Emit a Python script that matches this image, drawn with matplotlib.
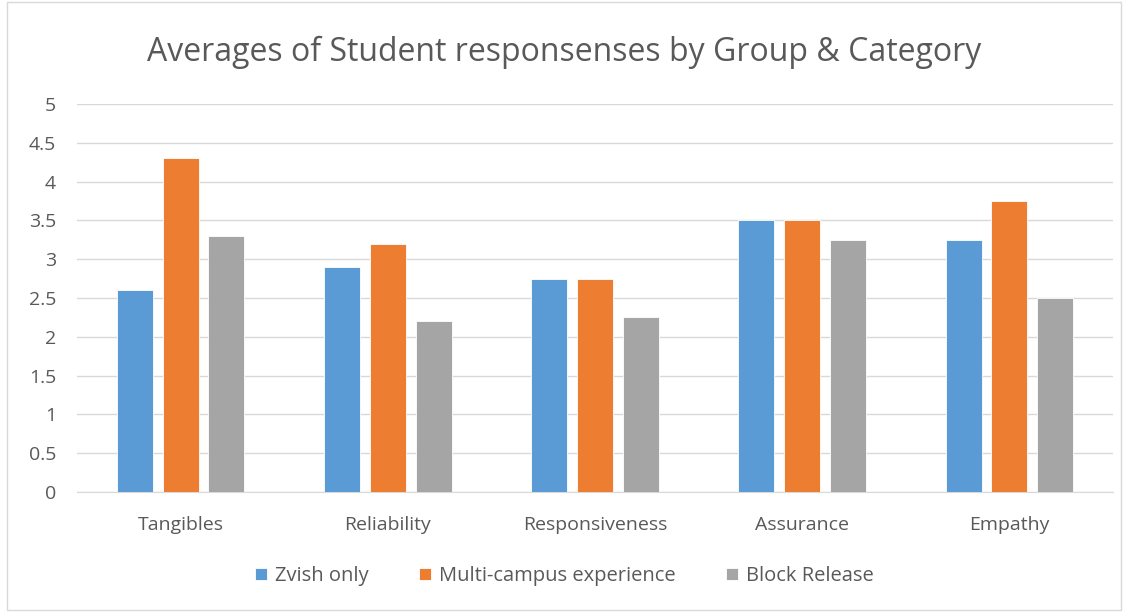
import numpy as np
import matplotlib.pyplot as plt
from matplotlib.patches import Rectangle

categories = ['Tangibles', 'Reliability', 'Responsiveness', 'Assurance', 'Empathy']
zvish_only = [2.6, 2.9, 2.75, 3.5, 3.25]
multi_campus = [4.3, 3.2, 2.75, 3.5, 3.75]
block_release = [3.3, 2.2, 2.25, 3.25, 2.5]
series_names = ['Zvish only', 'Multi-campus experience', 'Block Release']

plt.rcParams['font.family'] = ['Open Sans', 'DejaVu Sans']
text_col = '#595959'
colors = ['#5B9BD5', '#ED7D31', '#A5A5A5']

fig = plt.figure(figsize=(11.29, 6.12), dpi=100)
ax = fig.add_axes([77 / 1129, 1 - 492 / 612, (1113 - 77) / 1129, (492 - 104) / 612])

x = np.arange(len(categories))
w = 0.173
gap = 0.048
for i, (vals, c, name) in enumerate(zip([zvish_only, multi_campus, block_release], colors, series_names)):
    ax.bar(x + (i - 1) * (w + gap), vals, width=w, color=c, label=name,
           edgecolor='white', linewidth=0.6, zorder=3)

ax.set_xlim(-0.5, len(categories) - 0.5)
ax.set_ylim(0, 5)
ax.set_yticks(np.arange(0, 5.01, 0.5))
ax.set_yticklabels(['0', '0.5', '1', '1.5', '2', '2.5', '3', '3.5', '4', '4.5', '5'])
ax.set_xticks(x)
ax.set_xticklabels(categories)
ax.tick_params(axis='both', length=0, labelsize=14, colors=text_col)
ax.tick_params(axis='x', pad=17)
ax.tick_params(axis='y', pad=15)
ax.grid(axis='y', color='#D9D9D9', linewidth=1, zorder=0)
for s in ['top', 'right', 'left']:
    ax.spines[s].set_visible(False)
ax.spines['bottom'].set_color('#D9D9D9')

fig.text(0.5, 1 - 52 / 612, 'Averages of Student responsenses by Group & Category',
         ha='center', va='center', fontsize=23, color=text_col)

handles, labels = ax.get_legend_handles_labels()
leg = fig.legend(handles, labels, loc='center', bbox_to_anchor=(0.5, 1 - 576 / 612),
                 ncol=3, frameon=False, fontsize=14.5, handlelength=0.6, handleheight=0.6,
                 columnspacing=2.5, handletextpad=0.4)
for t in leg.get_texts():
    t.set_color(text_col)

fig.patches.append(Rectangle((7 / 1129, 0.003), 1 - 8 / 1129 - 7 / 1129, 0.994,
                             transform=fig.transFigure, fill=False,
                             edgecolor='#D9D9D9', linewidth=1))

fig.savefig('out.png', dpi=100)
